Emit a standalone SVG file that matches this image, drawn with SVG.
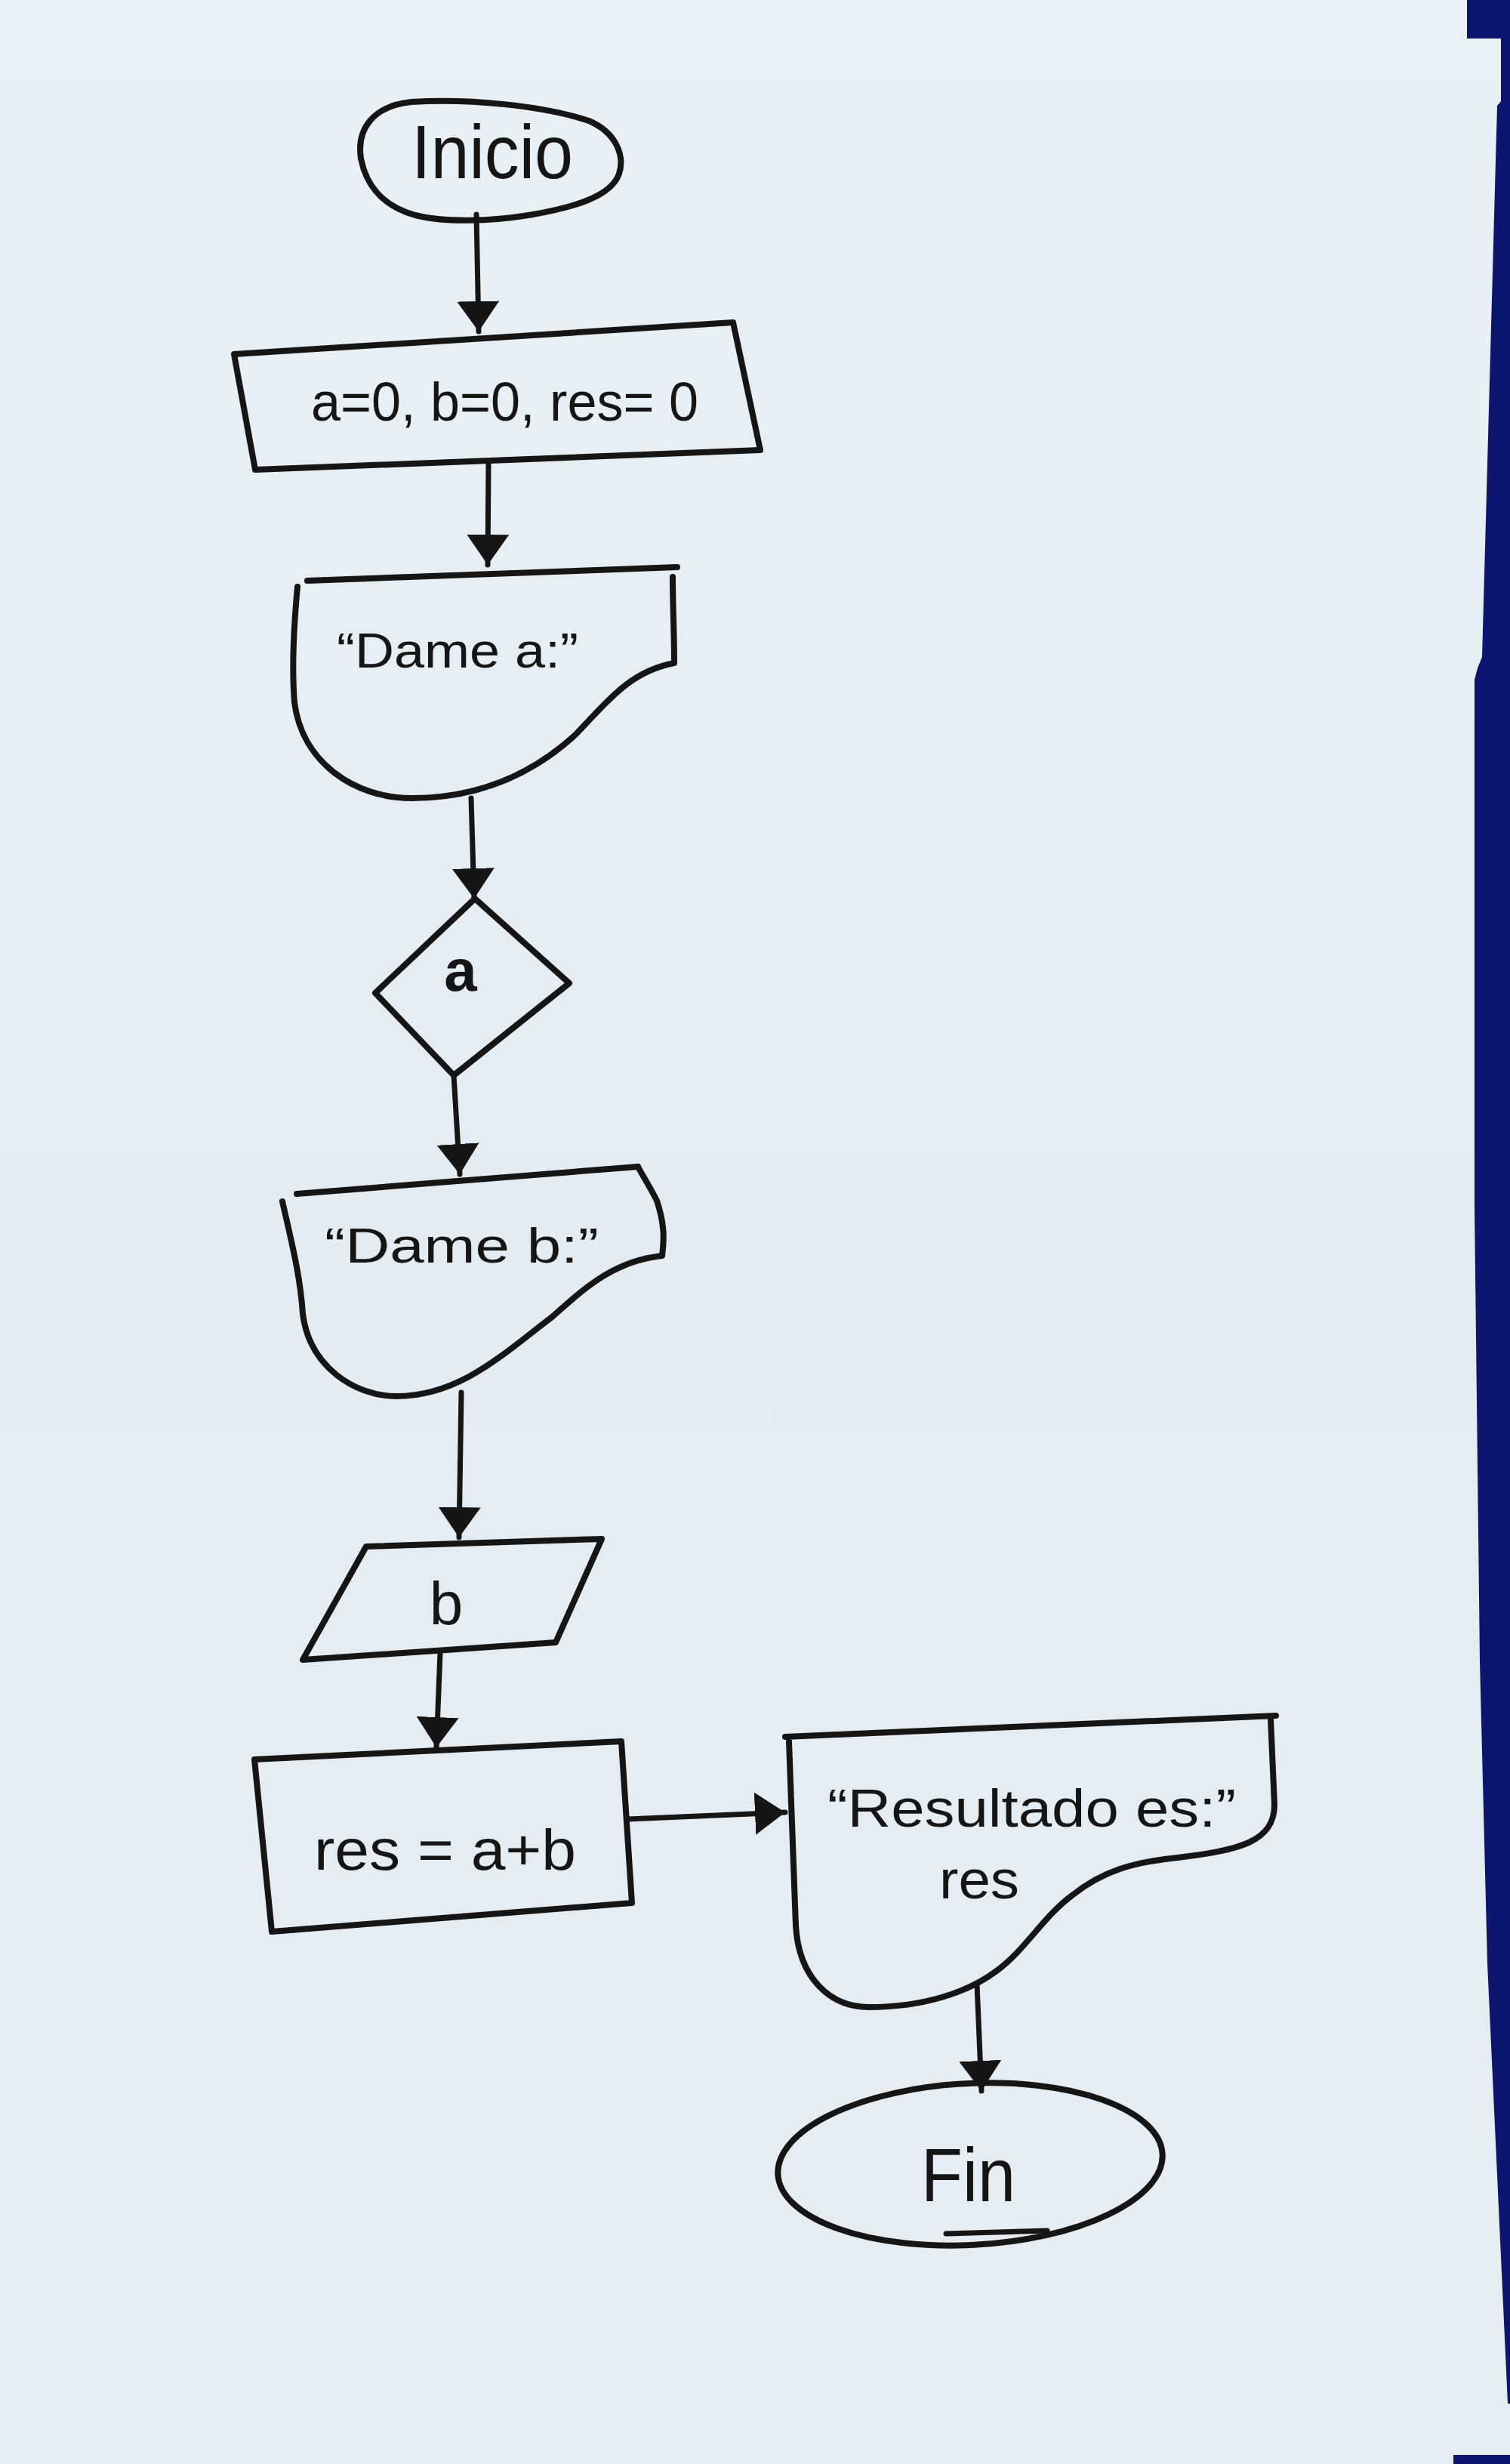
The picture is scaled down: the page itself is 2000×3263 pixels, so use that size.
<svg xmlns="http://www.w3.org/2000/svg" width="2000" height="3263" viewBox="0 0 2000 3263">
<defs>
<linearGradient id="paper" x1="0" y1="0" x2="0" y2="1">
<stop offset="0" stop-color="#e9f1f6"/>
<stop offset="0.5" stop-color="#e3ecf2"/>
<stop offset="1" stop-color="#e6eef4"/>
</linearGradient>
<marker id="arr" viewBox="0 0 40 56" refX="40" refY="28" markerWidth="40" markerHeight="56" markerUnits="userSpaceOnUse" orient="auto">
<path d="M0,0 L40,28 L0,56 Z" fill="#151515"/>
</marker>
<style>
.s{fill:none;stroke:#151515;stroke-width:8;stroke-linejoin:round;stroke-linecap:round}
.c{fill:none;stroke:#151515;stroke-width:7;stroke-linecap:round}
.t{font-family:"Liberation Sans","DejaVu Sans",sans-serif;fill:#151515}
</style>
</defs>
<rect x="0" y="0" width="2000" height="3263" fill="url(#paper)"/>
<path d="M1943,0 H2000 V3183 L1997,3183 L1970,2600 L1960,2200 L1953,1600 L1953,900 L1957,885 L1963,870 L1983,140 L1988,134 L1988,51 L1943,51 Z" fill="#0c1670"/>
<rect x="1925" y="3251" width="75" height="12" fill="#0c1670"/>

<g id="connectors">
<path class="c" d="M631,284 L634,439" marker-end="url(#arr)"/>
<path class="c" d="M647,613 L646,748" marker-end="url(#arr)"/>
<path class="c" d="M624,1057 L628,1190" marker-end="url(#arr)"/>
<path class="c" d="M601,1424 L609,1555" marker-end="url(#arr)"/>
<path class="c" d="M611,1844 L608,2036" marker-end="url(#arr)"/>
<path class="c" d="M583,2189 L578,2314" marker-end="url(#arr)"/>
<path class="c" d="M832,2409 L1040,2400" marker-end="url(#arr)"/>
<path class="c" d="M1294,2628 L1300,2769" marker-end="url(#arr)"/>
</g>

<g id="inicio">
<path class="s" d="M545,135 C620,130 720,140 780,160 C815,175 828,205 820,230 C810,260 760,275 700,285 C650,293 590,295 550,285 C505,272 485,245 478,210 C472,170 495,140 545,135 Z"/>
<text class="t" x="545" y="236" font-size="100" textLength="214" lengthAdjust="spacingAndGlyphs">Inicio</text>
</g>

<g id="init">
<polygon class="s" points="310,469 971,427 1007,596 338,622"/>
<text class="t" x="412" y="557" font-size="72" textLength="513" lengthAdjust="spacingAndGlyphs">a=0, b=0, res= 0</text>
</g>

<g id="display-a">
<path class="s" d="M407,769 L897,751"/>
<path class="s" d="M394,777 C390,820 386,880 390,930 C400,1010 470,1057 545,1057 C640,1057 710,1020 760,975 C800,935 830,890 893,878 C893,840 891,800 891,764"/>
<text class="t" x="446" y="884" font-size="64" textLength="320" lengthAdjust="spacingAndGlyphs">“Dame a:”</text>
</g>

<g id="read-a">
<polygon class="s" points="629,1190 754,1302 601,1424 497,1315"/>
<text class="t" x="610" y="1312" font-size="78" font-weight="bold" text-anchor="middle">a</text>
</g>

<g id="display-b">
<path class="s" d="M393,1581 L845,1545"/>
<path class="s" d="M374,1591 C385,1640 398,1690 401,1740 C410,1810 470,1849 525,1849 C610,1849 670,1790 730,1745 C770,1710 810,1670 877,1663 C880,1640 880,1620 870,1590 C860,1570 850,1555 845,1545"/>
<text class="t" x="430" y="1672" font-size="64" textLength="363" lengthAdjust="spacingAndGlyphs">“Dame b:”</text>
</g>

<g id="read-b">
<polygon class="s" points="485,2048 797,2038 736,2175 401,2198"/>
<text class="t" x="591" y="2151" font-size="80" text-anchor="middle">b</text>
</g>

<g id="process">
<polygon class="s" points="337,2330 823,2306 837,2520 360,2558"/>
<text class="t" x="416" y="2476" font-size="76" textLength="347" lengthAdjust="spacingAndGlyphs">res = a+b</text>
</g>

<g id="display-res">
<path class="s" d="M1040,2300 L1690,2272"/>
<path class="s" d="M1045,2306 L1054,2550 C1058,2620 1100,2658 1151,2658 C1220,2658 1280,2640 1320,2610 C1360,2580 1380,2540 1420,2510 C1460,2478 1500,2466 1560,2460 C1640,2450 1688,2440 1688,2390 L1683,2276"/>
<text class="t" x="1096" y="2419" font-size="70" textLength="541" lengthAdjust="spacingAndGlyphs">“Resultado es:”</text>
<text class="t" x="1244" y="2514" font-size="72" textLength="106" lengthAdjust="spacingAndGlyphs">res</text>
</g>

<g id="fin">
<ellipse class="s" cx="1285" cy="2866" rx="255" ry="107" transform="rotate(-3 1285 2866)"/>
<path class="c" d="M1253,2958 L1387,2954"/>
<text class="t" x="1220" y="2915" font-size="100" textLength="125" lengthAdjust="spacingAndGlyphs">Fin</text>
</g>
</svg>
